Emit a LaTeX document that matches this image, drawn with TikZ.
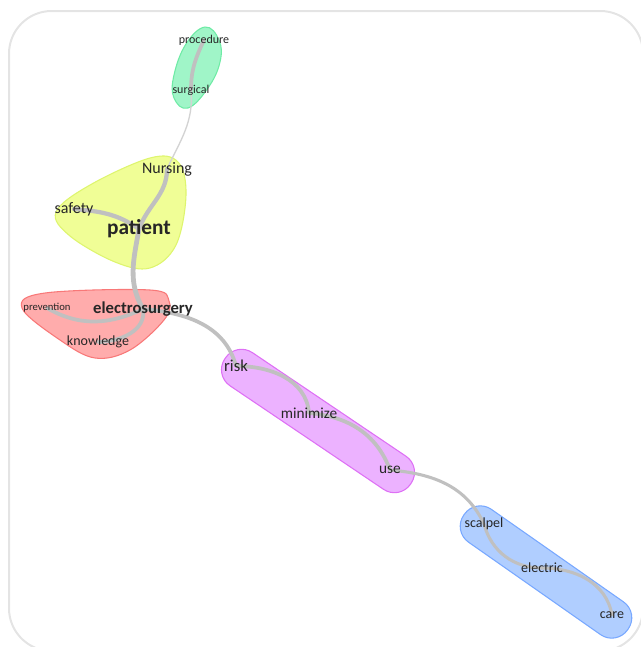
\documentclass[tikz,border=0pt]{standalone}
\usepackage{fontspec}
\setmainfont{Carlito}
\usetikzlibrary{calc}
\pgfdeclarelayer{hulls}\pgfdeclarelayer{links}
\pgfsetlayers{hulls,links,main}
\definecolor{linkgray}{RGB}{192,192,192}
\definecolor{framegray}{RGB}{228,228,228}
\definecolor{greenfill}{RGB}{160,245,200}\definecolor{greenline}{RGB}{110,235,165}
\definecolor{yellowfill}{RGB}{240,254,150}\definecolor{yellowline}{RGB}{222,245,110}
\definecolor{redfill}{RGB}{255,172,172}\definecolor{redline}{RGB}{248,120,120}
\definecolor{purplefill}{RGB}{236,178,255}\definecolor{purpleline}{RGB}{222,112,245}
\definecolor{bluefill}{RGB}{176,206,255}\definecolor{blueline}{RGB}{120,168,255}
\tikzset{
  word/.style={text=black!85, inner sep=1pt},
  fsize/.style={font=\fontsize{#1}{#1}\selectfont},
  bsize/.style={font=\fontsize{#1}{#1}\selectfont\bfseries},
  link/.style={draw=linkgray, line width=2.8pt, line cap=round},
  hull/.style={line width=0.8pt}
}

\begin{document}
\begin{tikzpicture}[x=0.75pt,y=-0.75pt]
\useasboundingbox (0,0) rectangle (641,647);
\clip (0,0) rectangle (641,647);
\draw[framegray, line width=1.5pt, rounded corners=32] (9,11) rectangle (643,651);

% words
\node[word,fsize=9] (procedure) at (204,40) {procedure};
\node[word,fsize=9] (surgical) at (191,90) {surgical};
\node[word,fsize=12] (nursing) at (167,169) {Nursing};
\node[word,fsize=12] (safety) at (74,209) {safety};
\node[word,bsize=16] (patient) at (139,229) {patient};
\node[word,bsize=12.5] (electro) at (143,309) {electrosurgery};
\node[word,fsize=8] (prevention) at (47,308) {prevention};
\node[word,fsize=10.5] (knowledge) at (98,342) {knowledge};
\node[word,fsize=12.5] (risk) at (236,366) {risk};
\node[word,fsize=11.5] (minimize) at (309,413) {minimize};
\node[word,fsize=11.5] (use) at (390,470) {use};
\node[word,fsize=10.5] (scalpel) at (484,524) {scalpel};
\node[word,fsize=10.5] (electric) at (542,568) {electric};
\node[word,fsize=10.5] (care) at (612,615) {care};

% links
\begin{pgfonlayer}{links}
\draw[link] (procedure.center) to[out=-115,in=90] (surgical.center);
\draw[link,line width=1pt,draw=linkgray!70] (surgical.center) to[out=-85,in=65] (nursing.center);
\draw[link,line width=3.2pt] (nursing.center) to[out=-90,in=70] (patient.center);
\draw[link,line width=3.2pt] (safety.center) to[out=-5,in=145] (patient.center);
\draw[link,line width=3.6pt] (patient.center) to[out=-100,in=120] (electro.center);
\draw[link] (prevention.center) to[out=-30,in=-155] (electro.center);
\draw[link] (knowledge.center) to[out=0,in=-80] (electro.center);
\draw[link] (electro.center) to[out=-5,in=105] (risk.center);
\draw[link] (risk.center) to[out=0,in=95] (minimize.center);
\draw[link] (minimize.center) to[out=-5,in=110] (use.center);
\draw[link,line width=2.3pt] (use.center) to[out=-5,in=115] (scalpel.center);
\draw[link,line width=2.3pt] (scalpel.center) to[out=-75,in=180] (electric.center);
\draw[link,line width=2.3pt] (electric.center) to[out=0,in=100] (care.center);
\end{pgfonlayer}

% clusters
\begin{pgfonlayer}{hulls}
\draw[hull,draw=greenline,fill=greenfill] plot[smooth cycle,tension=0.7] coordinates
  {(205,27) (219,40) (220,62) (208,88) (188,108) (174,98) (174,75) (186,44)};
\draw[hull,draw=yellowline,fill=yellowfill] plot[smooth cycle,tension=0.6] coordinates
  {(56,212) (90,185) (150,158) (178,162) (186,195) (176,245) (150,268) (115,262) (70,236)};
\draw[hull,draw=redline,fill=redfill] plot[smooth cycle,tension=0.6] coordinates
  {(22,308) (45,293) (150,290) (169,301) (164,320) (130,350) (95,358) (60,340)};
\draw[hull,draw=purpleline,fill=purplefill,rounded corners=14.5pt,rotate around={-34:(318,421)}]
  (206,401) rectangle (430,441);
\draw[hull,draw=blueline,fill=bluefill,rounded corners=14.5pt,rotate around={-35:(546,572)}]
  (446,552) rectangle (646,592);
\end{pgfonlayer}
\end{tikzpicture}
\end{document}
